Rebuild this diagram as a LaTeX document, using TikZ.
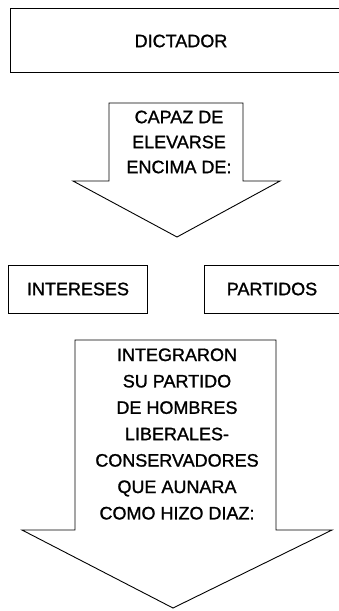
\documentclass[tikz,border=0pt]{standalone}
\usepackage{fontspec}
\setmainfont{Liberation Sans}[FakeBold=1.2]
\begin{document}
\begin{tikzpicture}[x=1pt,y=-1pt,
  frame/.style={draw=black, line width=0.9pt, line join=miter},
  lbl/.style={font=\fontsize{18}{25}\selectfont, align=center, inner sep=0pt},
  lbltall/.style={font=\fontsize{18}{26.4}\selectfont, align=center, inner sep=0pt}]
\useasboundingbox (0,0) rectangle (339,611);
\fill[white] (0,0) rectangle (339,611);
% DICTADOR box (open on the right, runs off the page)
\draw[frame] (339,8) -- (10,8) -- (10,72) -- (339,72);
\node[lbl] (dictador) at (181,41) {DICTADOR};
% first block arrow
\draw[frame] (109,103) -- (243,103) -- (243,181) -- (280,181) -- (177,237) -- (73,181) -- (109,181) -- cycle;
\node[lbl] (capaz) at (179,142) {CAPAZ DE\\ELEVARSE\\ENCIMA DE:};
% INTERESES box
\draw[frame] (8,265) rectangle (147,313);
\node[lbl] (intereses) at (78,289) {INTERESES};
% PARTIDOS box (open on the right)
\draw[frame] (339,265) -- (204,265) -- (204,313) -- (339,313);
\node[lbl] (partidos) at (272,289) {PARTIDOS};
% second block arrow
\draw[frame] (75,340) -- (276,340) -- (276,530) -- (332,530) -- (173,608) -- (22,530) -- (75,530) -- cycle;
\node[lbltall] (integraron) at (177,434) {INTEGRARON\\SU PARTIDO\\DE HOMBRES\\LIBERALES-\\CONSERVADORES\\QUE AUNARA\\COMO HIZO DIAZ:};
\end{tikzpicture}
\end{document}
